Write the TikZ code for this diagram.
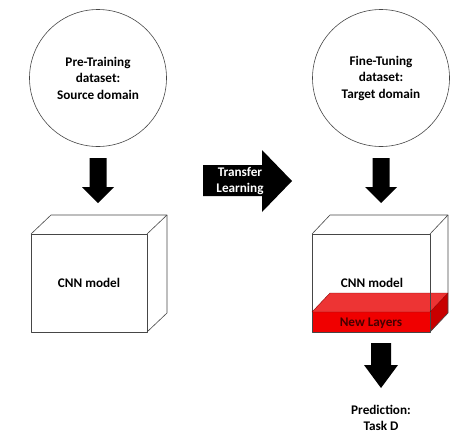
\documentclass[tikz,border=0pt]{standalone}
\usepackage{fontspec}
\setmainfont{Carlito}
\definecolor{edge}{RGB}{70,70,70}
\definecolor{redfront}{RGB}{240,0,0}
\definecolor{redtop}{RGB}{235,35,35}
\definecolor{redside}{RGB}{200,0,0}
\definecolor{newtxt}{RGB}{70,0,0}
\tikzset{
  lbl/.style={font=\bfseries\fontsize{13.2}{16.5}\selectfont, align=center, inner sep=0pt},
  dataset/.style={circle, draw=edge, line width=0.6pt, minimum size=137pt, lbl},
  boxline/.style={draw=edge, line width=0.6pt, line join=round},
  blockarrow/.style={fill=black}
}
\begin{document}
\begin{tikzpicture}[x=1pt,y=-1pt]
\useasboundingbox (0,0) rectangle (454,434);
% datasets
\node[dataset] (src) at (98,78) {Pre-Training\\dataset:\\Source domain};
\node[dataset] (tgt) at (381,78) {Fine-Tuning\\dataset:\\Target domain};
% down arrows
\foreach \cx/\nm in {98/la,381/ra}{
  \fill[blockarrow] (\cx-8.5,158) -- (\cx+8.5,158) -- (\cx+8.5,187) -- (\cx+16,187)
     -- (\cx,203) -- (\cx-16,187) -- (\cx-8.5,187) -- cycle;
}
% left box
\draw[boxline] (31,234) rectangle (147,332);
\draw[boxline] (31,234) -- (51,215) -- (167,215) -- (147,234);
\draw[boxline] (167,215) -- (167,313) -- (147,332);
\node[lbl] (cnn1) at (89,283) {CNN model};
% right box: new layers
\fill[redfront] (312,312) rectangle (430,332);
\fill[redtop, opacity=0.92] (312,312) -- (330,293) -- (448,293) -- (430,312) -- cycle;
\fill[redside] (430,312) -- (448,293) -- (448,313) -- (430,332) -- cycle;
\draw[boxline] (312,234) rectangle (430,332);
\draw[boxline] (312,234) -- (330,215) -- (448,215) -- (430,234);
\draw[boxline] (448,215) -- (448,313) -- (430,332);
\draw[draw=redside!70!black, line width=0.4pt] (312,312) -- (330,293) -- (448,293);
\draw[draw=redside!70!black, line width=0.4pt] (312,312) -- (430,312) -- (448,293);
\node[lbl] (cnn2) at (372,283) {CNN model};
\node[lbl, text=newtxt] (new) at (371,323) {New Layers};
% transfer arrow
\fill[blockarrow] (203,165) -- (262,165) -- (262,150) -- (292,181) -- (262,212)
   -- (262,196) -- (203,196) -- cycle;
\node[lbl, text=white] (tl) at (240,181) {Transfer\\Learning};
% bottom arrow
\fill[blockarrow] (381-10,343) -- (381+10,343) -- (381+10,365) -- (381+17,365)
   -- (381,388) -- (381-17,365) -- (381-10,365) -- cycle;
\node[lbl] (pred) at (381,418) {Prediction:\\Task D};
\end{tikzpicture}
\end{document}
